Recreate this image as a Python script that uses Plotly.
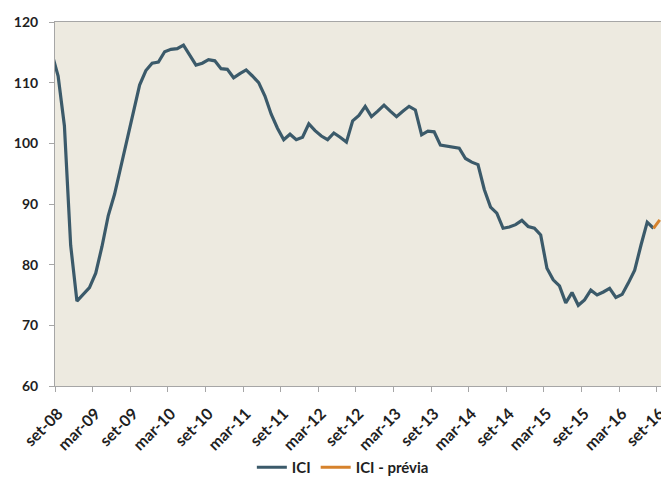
import plotly.graph_objects as go

# ---- data (monthly ICI, ago-08 .. ago-16; first point is clipped at the left edge) ----
month_abbr = ["jan", "fev", "mar", "abr", "mai", "jun", "jul", "ago", "set", "out", "nov", "dez"]
categories = []
for yr in range(8, 17):
    for m in month_abbr:
        categories.append(f"{m}-{yr:02d}")
categories = categories[categories.index("ago-08"): categories.index("set-16") + 1]

ici = [
    114.8,                                                     # ago-08
    111.1, 102.9, 83.2, 74.0,                                  # set-dez 08
    75.2, 76.2, 78.6, 83.0, 88.1, 91.6, 96.1, 100.5, 105.3, 109.6, 112.0, 113.2,   # 2009
    113.4, 115.1, 115.5, 115.6, 116.2, 114.5, 112.9, 113.2, 113.8, 113.6, 112.3, 112.2,  # 2010
    110.8, 111.5, 112.1, 111.1, 110.0, 107.8, 104.8, 102.5, 100.6, 101.5, 100.6, 101.0,  # 2011
    103.2, 102.1, 101.2, 100.6, 101.7, 101.0, 100.2, 103.7, 104.6, 106.1, 104.4, 105.3,  # 2012
    106.3, 105.3, 104.4, 105.3, 106.1, 105.5, 101.4, 102.0, 101.9, 99.7, 99.5, 99.4,     # 2013
    99.2, 97.5, 96.9, 96.5, 92.4, 89.5, 88.5, 86.0, 86.2, 86.6, 87.3, 86.3,              # 2014
    86.0, 84.9, 79.4, 77.5, 76.5, 73.7, 75.4, 73.3, 74.2, 75.8, 75.0, 75.5,              # 2015
    76.1, 74.6, 75.1, 77.0, 79.1, 83.2, 87.0, 86.0,                                      # jan-ago 16
]
ici_cats = categories[:len(ici)]

previa_cats = ["ago-16", "set-16"]
previa = [86.0, 87.4]

tick_labels = ["set-08", "mar-09", "set-09", "mar-10", "set-10", "mar-11", "set-11",
               "mar-12", "set-12", "mar-13", "set-13", "mar-14", "set-14", "mar-15",
               "set-15", "mar-16", "set-16"]
y_ticks = [60, 70, 80, 90, 100, 110, 120]

# ---- styling ----
BLUE = "#3b5a6a"
ORANGE = "#d6822c"
BG = "#edeae0"
AXIS = "#a6a6a6"
TXT = "#1f1f1f"
FONT = "Lato"

x_lo = 0.5
x_hi = 97.2

fig = go.Figure()
fig.add_trace(go.Scatter(x=ici_cats, y=ici, mode="lines", name="ICI",
                         line=dict(color=BLUE, width=3.2)))
fig.add_trace(go.Scatter(x=previa_cats, y=previa, mode="lines", name="ICI - prévia",
                         line=dict(color=ORANGE, width=3)))
# helper trace that carries the boundary tick-mark axis
fig.add_trace(go.Scatter(x=[None], y=[None], xaxis="x2", showlegend=False,
                         hoverinfo="skip", mode="lines"))

fig.update_layout(
    width=661, height=484,
    margin=dict(l=55, r=0, t=22, b=96),
    paper_bgcolor="white",
    plot_bgcolor=BG,
    font=dict(family=FONT, size=14, color=TXT, weight="bold"),
    showlegend=True,
    legend=dict(orientation="h", x=0.475, xanchor="center", y=-0.225, yanchor="middle",
                font=dict(family=FONT, size=15, color=TXT, weight="bold"), itemwidth=30,
                bgcolor="rgba(0,0,0,0)"),
    xaxis=dict(type="category", categoryorder="array", categoryarray=categories,
               range=[x_lo, x_hi], tickmode="array", tickvals=tick_labels,
               ticktext=tick_labels, tickangle=-45, ticks="",
               ticklabelstandoff=11, automargin=False,
               showgrid=False, zeroline=False, showline=True, linecolor=AXIS,
               linewidth=1, mirror=True,
               tickfont=dict(family=FONT, size=16, color=TXT, weight="bold")),
    xaxis2=dict(overlaying="x", range=[x_lo, x_hi], tickmode="array",
                tickvals=[x_lo + 6 * k for k in range(len(tick_labels))],
                showticklabels=False, ticks="outside", ticklen=5, tickcolor=AXIS,
                showgrid=False, zeroline=False, side="bottom", automargin=False),
    yaxis=dict(range=[60, 120], tickmode="array", tickvals=y_ticks,
               ticks="outside", ticklen=5, tickcolor=AXIS, showgrid=False,
               zeroline=False, showline=True, linecolor=AXIS, linewidth=1,
               ticklabelstandoff=8, automargin=False,
               tickfont=dict(family=FONT, size=14, color=TXT, weight="bold")),
)

fig.write_html(
    "out.html",
    config={"displayModeBar": False},
    post_script="document.body.style.margin='0';document.body.style.overflow='hidden';",
)
